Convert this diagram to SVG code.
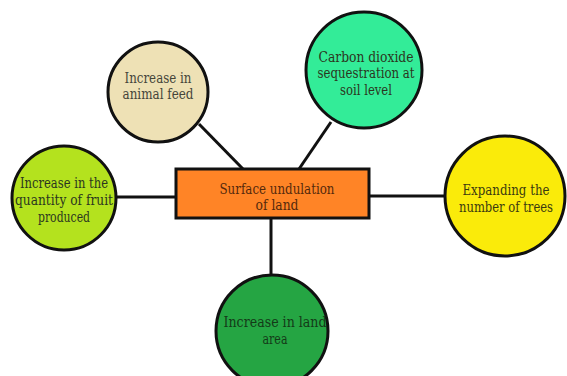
<svg xmlns="http://www.w3.org/2000/svg" width="567" height="376" viewBox="0 0 567 376">
<style>
.n{stroke:#111;stroke-width:3}
text{font-family:'DejaVu Serif','Liberation Serif',serif;font-size:14px;text-anchor:middle;fill:#2b3620}
.c{stroke:#111;stroke-width:3;fill:none}
</style>
<rect width="567" height="376" fill="#fff"/>
<g id="connectors">
<line class="c" x1="199" y1="124" x2="243" y2="169"/>
<line class="c" x1="331" y1="122" x2="299" y2="169"/>
<line class="c" x1="116" y1="197" x2="176" y2="197"/>
<line class="c" x1="369" y1="196" x2="445" y2="196"/>
<line class="c" x1="271" y1="218" x2="271" y2="276"/>
</g>
<g id="center">
<rect class="n" x="176" y="169" width="193" height="49" fill="#FF8426"/>
<text x="277" y="194" textLength="115" lengthAdjust="spacingAndGlyphs" style="fill:#55290c">Surface undulation</text>
<text x="277" y="210" textLength="43" lengthAdjust="spacingAndGlyphs" style="fill:#55290c">of land</text>
</g>
<g id="animal">
<circle class="n" cx="158" cy="92" r="50" fill="#EEE1B5"/>
<text x="158" y="83" textLength="67" lengthAdjust="spacingAndGlyphs" style="fill:#45453a">Increase in</text>
<text x="158" y="99" textLength="71" lengthAdjust="spacingAndGlyphs" style="fill:#45453a">animal feed</text>
</g>
<g id="carbon">
<circle class="n" cx="364" cy="70" r="58" fill="#33EC98"/>
<text x="366" y="62" textLength="95" lengthAdjust="spacingAndGlyphs">Carbon dioxide</text>
<text x="366" y="78" textLength="97" lengthAdjust="spacingAndGlyphs">sequestration at</text>
<text x="366" y="95" textLength="52" lengthAdjust="spacingAndGlyphs">soil level</text>
</g>
<g id="fruit">
<circle class="n" cx="64" cy="198" r="52" fill="#B4E21E"/>
<text x="64" y="188" textLength="88" lengthAdjust="spacingAndGlyphs">Increase in the</text>
<text x="64" y="205" textLength="98" lengthAdjust="spacingAndGlyphs">quantity of fruit</text>
<text x="64" y="222" textLength="52" lengthAdjust="spacingAndGlyphs">produced</text>
</g>
<g id="trees">
<circle class="n" cx="505" cy="196" r="60" fill="#FAEB0A"/>
<text x="506" y="195" font-size="12.5" textLength="87" lengthAdjust="spacingAndGlyphs" style="fill:#3a3a10">Expanding the</text>
<text x="506" y="212" font-size="12" textLength="94" lengthAdjust="spacingAndGlyphs" style="fill:#3a3a10">number of trees</text>
</g>
<g id="land">
<circle class="n" cx="272" cy="331" r="56" fill="#25A543"/>
<text x="275" y="327" textLength="103" lengthAdjust="spacingAndGlyphs" style="fill:#143a18">Increase in land</text>
<text x="275" y="344" textLength="25" lengthAdjust="spacingAndGlyphs" style="fill:#143a18">area</text>
</g>
</svg>
